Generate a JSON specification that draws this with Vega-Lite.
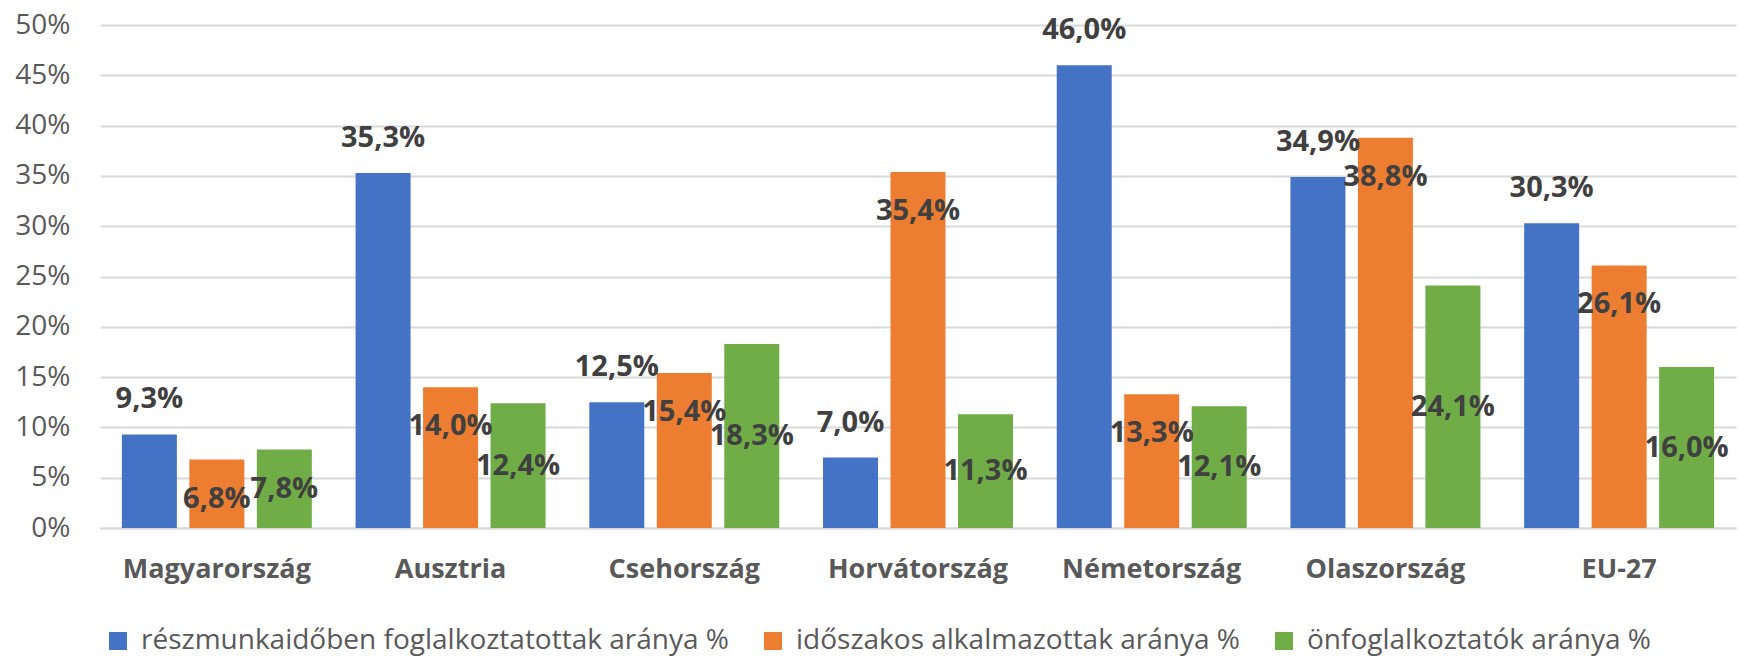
{
  "$schema": "https://vega.github.io/schema/vega-lite/v6.json",
  "width": 1636,
  "height": 503,
  "autosize": {"type": "none"},
  "padding": {"left": 100, "top": 25, "right": 2, "bottom": 133},
  "config": {
    "locale": {"number": {"decimal": ",", "thousands": " ", "grouping": [3], "currency": ["", " €"]}},
    "view": {"stroke": null},
    "font": "Open Sans"
  },
  "resolve": {"scale": {"y": "independent"}},
  "data": {
    "values": [
      {"country": "Magyarország", "series": "részmunkaidőben foglalkoztatottak aránya %", "value": 0.093},
      {"country": "Magyarország", "series": "időszakos alkalmazottak aránya %", "value": 0.068},
      {"country": "Magyarország", "series": "önfoglalkoztatók aránya %", "value": 0.078},
      {"country": "Ausztria", "series": "részmunkaidőben foglalkoztatottak aránya %", "value": 0.353},
      {"country": "Ausztria", "series": "időszakos alkalmazottak aránya %", "value": 0.140},
      {"country": "Ausztria", "series": "önfoglalkoztatók aránya %", "value": 0.124},
      {"country": "Csehország", "series": "részmunkaidőben foglalkoztatottak aránya %", "value": 0.125},
      {"country": "Csehország", "series": "időszakos alkalmazottak aránya %", "value": 0.154},
      {"country": "Csehország", "series": "önfoglalkoztatók aránya %", "value": 0.183},
      {"country": "Horvátország", "series": "részmunkaidőben foglalkoztatottak aránya %", "value": 0.070},
      {"country": "Horvátország", "series": "időszakos alkalmazottak aránya %", "value": 0.354},
      {"country": "Horvátország", "series": "önfoglalkoztatók aránya %", "value": 0.113},
      {"country": "Németország", "series": "részmunkaidőben foglalkoztatottak aránya %", "value": 0.460},
      {"country": "Németország", "series": "időszakos alkalmazottak aránya %", "value": 0.133},
      {"country": "Németország", "series": "önfoglalkoztatók aránya %", "value": 0.121},
      {"country": "Olaszország", "series": "részmunkaidőben foglalkoztatottak aránya %", "value": 0.349},
      {"country": "Olaszország", "series": "időszakos alkalmazottak aránya %", "value": 0.388},
      {"country": "Olaszország", "series": "önfoglalkoztatók aránya %", "value": 0.241},
      {"country": "EU-27", "series": "részmunkaidőben foglalkoztatottak aránya %", "value": 0.303},
      {"country": "EU-27", "series": "időszakos alkalmazottak aránya %", "value": 0.261},
      {"country": "EU-27", "series": "önfoglalkoztatók aránya %", "value": 0.160}
    ]
  },
  "encoding": {
    "x": {
      "field": "country",
      "type": "nominal",
      "sort": null,
      "scale": {"paddingInner": 0, "paddingOuter": 0},
      "axis": {
        "title": null,
        "labelAngle": 0,
        "labelFont": "Open Sans",
        "labelFontWeight": "bold",
        "labelFontSize": 27,
        "labelColor": "#595959",
        "labelPadding": 28,
        "labelLimit": 500,
        "tickSize": 0,
        "ticks": false,
        "domainColor": "#D9D9D9",
        "domainWidth": 2
      }
    },
    "xOffset": {
      "field": "series",
      "type": "nominal",
      "sort": ["részmunkaidőben foglalkoztatottak aránya %", "időszakos alkalmazottak aránya %", "önfoglalkoztatók aránya %"],
      "scale": {"paddingInner": 0.185, "paddingOuter": 0.324}
    }
  },
  "layer": [
    {
      "mark": {"type": "bar"},
      "encoding": {
        "y": {
          "field": "value",
          "type": "quantitative",
          "scale": {"domain": [0, 0.5], "nice": false},
          "axis": {
            "title": null,
            "format": ".0%",
            "values": [0, 0.05, 0.1, 0.15, 0.2, 0.25, 0.3, 0.35, 0.4, 0.45, 0.5],
            "domain": false,
            "ticks": false,
            "labelFont": "Open Sans",
            "labelFontSize": 28,
            "labelColor": "#595959",
            "labelPadding": 30,
            "gridColor": "#D9D9D9",
            "gridWidth": 2
          }
        },
        "color": {
          "field": "series",
          "type": "nominal",
          "scale": {
            "domain": ["részmunkaidőben foglalkoztatottak aránya %", "időszakos alkalmazottak aránya %", "önfoglalkoztatók aránya %"],
            "range": ["#4472C4", "#ED7D31", "#70AD47"]
          },
          "legend": {
            "title": null,
            "orient": "none",
            "direction": "horizontal",
            "legendX": 4,
            "legendY": 602,
            "symbolType": "square",
            "symbolSize": 324,
            "symbolStrokeWidth": 0,
            "labelFont": "Open Sans",
            "labelFontSize": 28,
            "labelColor": "#595959",
            "labelOffset": 9,
            "columnPadding": 30,
            "labelLimit": 1000
          }
        }
      }
    },
    {
      "transform": [{"filter": "datum.series === 'részmunkaidőben foglalkoztatottak aránya %'"}],
      "mark": {"type": "text", "baseline": "alphabetic", "dy": -26, "fontSize": 29, "fontWeight": "bold", "color": "#404040", "font": "Open Sans"},
      "encoding": {
        "y": {"field": "value", "type": "quantitative", "scale": {"domain": [0, 0.5], "nice": false}, "axis": null},
        "text": {"field": "value", "type": "quantitative", "format": ".1%"}
      }
    },
    {
      "transform": [{"filter": "datum.series === 'időszakos alkalmazottak aránya %'"}],
      "mark": {"type": "text", "baseline": "alphabetic", "dy": 48, "fontSize": 29, "fontWeight": "bold", "color": "#404040", "font": "Open Sans"},
      "encoding": {
        "y": {"field": "value", "type": "quantitative", "scale": {"domain": [0, 0.5], "nice": false}, "axis": null},
        "text": {"field": "value", "type": "quantitative", "format": ".1%"}
      }
    },
    {
      "transform": [{"filter": "datum.series === 'önfoglalkoztatók aránya %'"}],
      "mark": {"type": "text", "baseline": "middle", "fontSize": 29, "fontWeight": "bold", "color": "#404040", "font": "Open Sans"},
      "encoding": {
        "y": {"field": "value", "type": "quantitative", "scale": {"domain": [0, 1.0], "nice": false}, "axis": null},
        "text": {"field": "value", "type": "quantitative", "format": ".1%"}
      }
    }
  ]
}
